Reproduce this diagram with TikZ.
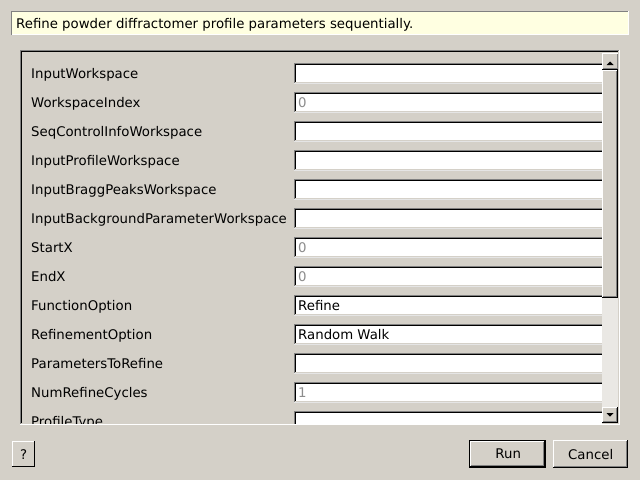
\documentclass[tikz,border=0pt]{standalone}
\usepackage{fontspec}
\setmainfont{DejaVu Sans}
\definecolor{winbg}{HTML}{D4D0C8}
\definecolor{tipbg}{HTML}{FFFFE1}
\definecolor{dim}{HTML}{8C8C8C}
\definecolor{dkgray}{HTML}{808080}
\definecolor{trough}{HTML}{EAE8E4}
\begin{document}
\begin{tikzpicture}[x=1pt,y=-1pt,
  lbl/.style={anchor=base west,inner sep=0pt,font=\fontsize{13.3}{15}\selectfont},
  fieldtxt/.style={anchor=base west,inner sep=0pt,font=\fontsize{13.3}{15}\selectfont},
  btn/.style={fill=winbg,draw=none}]
\useasboundingbox (0,0) rectangle (640,480);
\fill[winbg] (0,0) rectangle (640,480);
% description box
\fill[tipbg] (11,11) rectangle (629,35);
\draw[dkgray] (11.5,35) -- (11.5,11.5) -- (629,11.5);
\draw[white] (11.5,34.5) -- (628.5,34.5) -- (628.5,11);
\node[lbl] (desc) at (16,28) {Refine powder diffractomer profile parameters sequentially.};
% panel
\draw[dkgray] (20.5,424) -- (20.5,50.5) -- (619,50.5);
\draw[black] (21.5,423) -- (21.5,51.5) -- (618,51.5);
\draw[white] (20,424.5) -- (619.5,424.5) -- (619.5,50);
\begin{scope}
\clip (22,52) rectangle (602,423);
\foreach \i/\name/\val/\col in {
  0/InputWorkspace//black,
  1/WorkspaceIndex/0/dim,
  2/SeqControlInfoWorkspace//black,
  3/InputProfileWorkspace//black,
  4/InputBraggPeaksWorkspace//black,
  5/InputBackgroundParameterWorkspace//black,
  6/StartX/0/dim,
  7/EndX/0/dim,
  8/FunctionOption/Refine/black,
  9/RefinementOption/Random Walk/black,
  10/ParametersToRefine//black,
  11/NumRefineCycles/1/dim,
  12/ProfileType//black} {
  \pgfmathsetmacro{\ty}{63+29*\i}
  \node[lbl] (l\i) at (31,\ty+15) {\name};
  \fill[white] (294,\ty) rectangle (606,\ty+20);
  \draw[dkgray] (294.5,\ty+20) -- (294.5,\ty+0.5) -- (606,\ty+0.5);
  \draw[black] (295.5,\ty+19) -- (295.5,\ty+1.5) -- (606,\ty+1.5);
  \draw[winbg] (295,\ty+19.5) -- (606,\ty+19.5);
  \draw[white!90!black] (294,\ty+20.5) -- (606,\ty+20.5);
  \node[fieldtxt,text=\col] (v\i) at (298,\ty+15) {\val};
}
\end{scope}
% scrollbar
\fill[trough] (602,53) rectangle (618,423);
\fill[winbg] (602,53) rectangle (618,69);
\draw[white] (602.5,69) -- (602.5,53.5) -- (618,53.5);
\draw[dkgray] (603,68.5) -- (617.5,68.5) -- (617.5,54);
\draw[black] (602,69.5) -- (618,69.5);
\fill[black] (606.5,65) -- (613.5,65) -- (610,61.5) -- cycle;
\fill[winbg] (602,70) rectangle (618,297);
\draw[white] (602.5,297) -- (602.5,70.5) -- (617,70.5);
\draw[dkgray] (603,296.5) -- (616.5,296.5) -- (616.5,71);
\draw[black] (602,297.5) -- (617.5,297.5) -- (617.5,70);
\fill[winbg] (602,407) rectangle (618,423);
\draw[white] (602.5,423) -- (602.5,407.5) -- (618,407.5);
\draw[dkgray] (603,421.5) -- (616.5,421.5) -- (616.5,408);
\draw[black] (602,422.5) -- (617.5,422.5) -- (617.5,407);
\fill[black] (606.5,413) -- (613.5,413) -- (610,416.5) -- cycle;
% help button
\node[btn,minimum width=23pt,minimum height=26pt,anchor=north west,inner sep=0pt,font=\fontsize{13.3}{15}\selectfont] (help) at (12,441) {?};
\draw[white] (12.5,467) -- (12.5,441.5) -- (35,441.5);
\draw[black] (12,466.5) -- (34.5,466.5) -- (34.5,441);
% Run button (default)
\draw[black] (469.5,440.5) rectangle (545.5,467.5);
\node[btn,minimum width=74pt,minimum height=25pt,anchor=north west,inner sep=0pt,font=\fontsize{13.3}{15}\selectfont] (run) at (471,441) {Run};
\draw[white] (470.5,466) -- (470.5,441.5) -- (544,441.5);
\draw[dkgray] (471,465.5) -- (543.5,465.5) -- (543.5,442);
\draw[black] (470,466.5) -- (544.5,466.5) -- (544.5,441);
% Cancel button
\node[btn,minimum width=75pt,minimum height=28pt,anchor=north west,inner sep=0pt,font=\fontsize{13.3}{15}\selectfont] (cancel) at (553,440) {Cancel};
\draw[white] (553.5,468) -- (553.5,440.5) -- (628,440.5);
\draw[dkgray] (554,466.5) -- (626.5,466.5) -- (626.5,441);
\draw[black] (553,467.5) -- (627.5,467.5) -- (627.5,440);
\end{tikzpicture}
\end{document}
